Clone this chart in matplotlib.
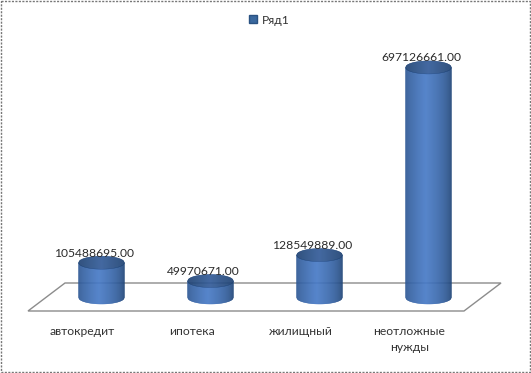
import matplotlib
matplotlib.use('Agg')
import matplotlib.pyplot as plt
import numpy as np
from matplotlib.patches import Patch

plt.rcParams['font.family'] = ['Lato', 'Open Sans', 'DejaVu Sans']

categories = ['автокредит', 'ипотека', 'жилищный', 'неотложные\nнужды']
values = [105488695.00, 49970671.00, 128549889.00, 697126661.00]
series_name = 'Ряд1'

W, H = 531, 373
per_px = 3.03e6      # value per pixel on the y scale
base_py = 297        # pixel row of value 0
first_px = 101       # pixel column of the first category
step_px = 109
half_w = 23 / step_px
ell_h = 6.5 * per_px


def lerp(c1, c2, t):
    return tuple(a + (b - a) * t for a, b in zip(c1, c2))


dark = (0.11, 0.25, 0.44)
light = (0.28, 0.48, 0.78)
top_dark = (0.12, 0.26, 0.45)
top_light = (0.20, 0.36, 0.60)

fig = plt.figure(figsize=(W / 100, H / 100), dpi=100)

# pixel axes for frame and floor
bg = fig.add_axes([0, 0, 1, 1])
bg.set_xlim(0, W)
bg.set_ylim(H, 0)
bg.axis('off')
bg.plot([1, 530, 530, 1, 1], [1, 1, 372, 372, 1], color='#777777', lw=1, ls=(0, (1.5, 1)))
bg.fill([28, 65, 501, 464], [311, 283, 283, 311], facecolor='white', edgecolor='#8c8c8c', lw=1)

# data axes
ax = fig.add_axes([0, 0, 1, 1])
ax.patch.set_alpha(0)
ax.set_xlim(-first_px / step_px, (W - first_px) / step_px)
ax.set_ylim((base_py - H) * per_px, base_py * per_px)
ax.axis('off')

n_strips = 46
edges = np.linspace(-1, 1, n_strips + 1)

for i, v in enumerate(values):
    # body
    for k in range(n_strips):
        u0, u1 = edges[k], edges[k + 1]
        um = (u0 + u1) / 2
        t = (1 - abs(um + 0.1) / 1.1) ** 0.55
        xs = i + np.array([u0, u1]) * half_w
        low = -ell_h * np.sqrt(1 - np.array([u0, u1]) ** 2)
        ax.fill_between(xs, low, v + low, color=lerp(dark, light, t), lw=0.3)
    # top
    for k in range(n_strips):
        u0, u1 = edges[k], edges[k + 1]
        um = (u0 + u1) / 2
        t = 1 - abs(um)
        xs = i + np.array([u0, u1]) * half_w
        h = ell_h * np.sqrt(1 - np.array([u0, u1]) ** 2)
        ax.fill_between(xs, v - h, v + h, color=lerp(top_dark, top_light, t), lw=0.3)
    ax.text(i - 7 / step_px, v + 9 * per_px, f'{v:.2f}', ha='center', va='center',
            fontsize=8.7, color='#2b2b2b')
    ax.text(i - 18.5 / step_px, (base_py - 326) * per_px, categories[i], ha='center', va='top',
            fontsize=8.7, color='#333333', linespacing=1.55)

ax.legend(handles=[Patch(facecolor='#3a689e', edgecolor='#2a5282', label=series_name)],
          loc='center', bbox_to_anchor=(269 / W, 1 - 20 / H), frameon=False, fontsize=8.7,
          handlelength=0.65, handleheight=0.65, handletextpad=0.4, labelcolor='#333333')

plt.savefig('out.png', dpi=100)
